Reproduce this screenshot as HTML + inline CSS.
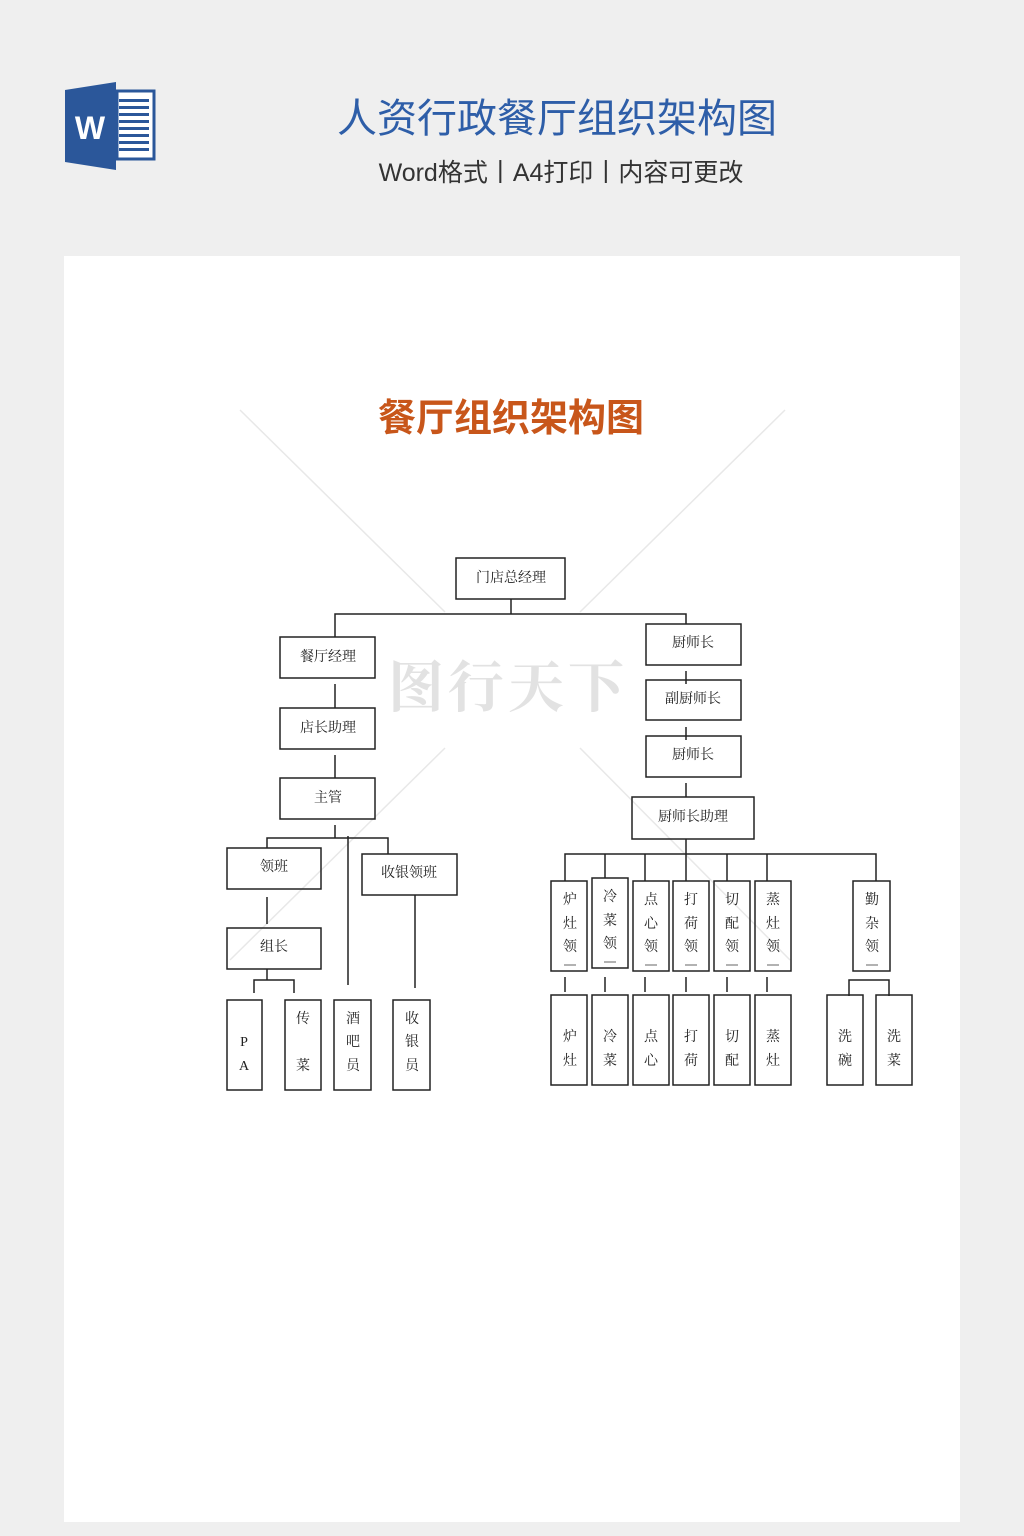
<!DOCTYPE html>
<html><head><meta charset="utf-8"><style>
html,body{margin:0;padding:0;background:#efefef;}
body{width:1024px;height:1536px;position:relative;overflow:hidden;}
</style></head><body>
<svg width="1024" height="1536" viewBox="0 0 1024 1536" xmlns="http://www.w3.org/2000/svg" style="position:absolute;left:0;top:0">
<rect width="1024" height="1536" fill="#efefef"/>
<!-- word icon -->
<polygon points="116,82 116,170 65,162 65,90" fill="#2b579a"/>
<rect x="117" y="91" width="37" height="68" fill="#fff" stroke="#2b579a" stroke-width="3"/>
<g fill="#2b579a"><rect x="119" y="99" width="30" height="3"/><rect x="119" y="106" width="30" height="3"/><rect x="119" y="113" width="30" height="3"/><rect x="119" y="120" width="30" height="3"/><rect x="119" y="127" width="30" height="3"/><rect x="119" y="134" width="30" height="3"/><rect x="119" y="141" width="30" height="3"/><rect x="119" y="148" width="30" height="3"/></g>
<text x="90" y="139" font-family="Liberation Sans, sans-serif" font-weight="bold" font-size="32" fill="#fff" text-anchor="middle">W</text>
<text x="557" y="132" font-family="Liberation Sans, 'Noto Sans CJK SC', sans-serif" font-size="40" fill="#2e5ea8" text-anchor="middle">人资行政餐厅组织架构图</text>
<text x="561" y="181" font-family="Liberation Sans, 'Noto Sans CJK SC', sans-serif" font-size="25" fill="#333" text-anchor="middle">Word格式丨A4打印丨内容可更改</text>
<rect x="64" y="256" width="896" height="1266" fill="#fff"/>
<text x="511" y="431" font-family="'Noto Sans CJK SC', sans-serif" font-weight="bold" font-size="38" fill="#c8561a" text-anchor="middle">餐厅组织架构图</text>
<!-- watermark -->
<g stroke="#e8e8e8" stroke-width="1.5">
<line x1="240" y1="410" x2="445" y2="612"/><line x1="785" y1="410" x2="580" y2="612"/>
<line x1="445" y1="748" x2="230" y2="960"/><line x1="580" y1="748" x2="790" y2="960"/>
</g>
<text x="508" y="707" font-family="'Noto Serif CJK SC', serif" font-weight="bold" font-size="56" fill="#e2e2e2" text-anchor="middle" letter-spacing="4">图行天下</text>
<g fill="none" stroke="#222" stroke-width="1.5">
<rect x="456" y="558" width="109" height="41"/>
<polyline points="511,599 511,614"/>
<polyline points="335,637 335,614 686,614 686,624"/>
<rect x="280" y="637" width="95" height="41"/>
<rect x="280" y="708" width="95" height="41"/>
<rect x="280" y="778" width="95" height="41"/>
<line x1="335" y1="684" x2="335" y2="708"/>
<line x1="335" y1="755" x2="335" y2="778"/>
<line x1="335" y1="825" x2="335" y2="838"/>
<polyline points="267,848 267,838 388,838 388,854"/>
<line x1="348" y1="836" x2="348" y2="985"/>
<rect x="227" y="848" width="94" height="41"/>
<rect x="362" y="854" width="95" height="41"/>
<line x1="267" y1="897" x2="267" y2="924"/>
<rect x="227" y="928" width="94" height="41"/>
<polyline points="254,993 254,980 294,980 294,993"/><line x1="267" y1="969" x2="267" y2="980"/>
<line x1="415" y1="895" x2="415" y2="988"/>
<rect x="227" y="1000" width="35" height="90"/>
<rect x="285" y="1000" width="36" height="90"/>
<rect x="334" y="1000" width="37" height="90"/>
<rect x="393" y="1000" width="37" height="90"/>
<rect x="646" y="624" width="95" height="41"/>
<rect x="646" y="680" width="95" height="40"/>
<rect x="646" y="736" width="95" height="41"/>
<rect x="632" y="797" width="122" height="42"/>
<line x1="686" y1="671" x2="686" y2="684"/>
<line x1="686" y1="727" x2="686" y2="740"/>
<line x1="686" y1="783" x2="686" y2="797"/>
<line x1="686" y1="839" x2="686" y2="854"/>
<polyline points="565,881 565,854 876,854 876,881"/>
<line x1="605" y1="854" x2="605" y2="878"/><line x1="645" y1="854" x2="645" y2="881"/><line x1="686" y1="854" x2="686" y2="881"/><line x1="727" y1="854" x2="727" y2="881"/><line x1="767" y1="854" x2="767" y2="881"/>
<rect x="551" y="881" width="36" height="90"/>
<rect x="592" y="878" width="36" height="90"/>
<rect x="633" y="881" width="36" height="90"/>
<rect x="673" y="881" width="36" height="90"/>
<rect x="714" y="881" width="36" height="90"/>
<rect x="755" y="881" width="36" height="90"/>
<rect x="853" y="881" width="37" height="90"/>
<g><line x1="565" y1="977" x2="565" y2="992"/><line x1="605" y1="977" x2="605" y2="992"/><line x1="645" y1="977" x2="645" y2="992"/><line x1="686" y1="977" x2="686" y2="992"/><line x1="727" y1="977" x2="727" y2="992"/><line x1="767" y1="977" x2="767" y2="992"/></g>
<rect x="551" y="995" width="36" height="90"/>
<rect x="592" y="995" width="36" height="90"/>
<rect x="633" y="995" width="36" height="90"/>
<rect x="673" y="995" width="36" height="90"/>
<rect x="714" y="995" width="36" height="90"/>
<rect x="755" y="995" width="36" height="90"/>
<polyline points="849,996 849,980 889,980 889,996"/>
<rect x="827" y="995" width="36" height="90"/>
<rect x="876" y="995" width="36" height="90"/>
</g>
<g font-family="'Liberation Serif','Noto Serif CJK SC',serif" font-size="14" fill="#222" text-anchor="middle">
<text x="511" y="582">门店总经理</text>
<text x="328" y="661">餐厅经理</text>
<text x="328" y="732">店长助理</text>
<text x="328" y="802">主管</text>
<text x="274" y="871">领班</text>
<text x="409" y="877">收银领班</text>
<text x="274" y="951">组长</text>
<text x="693" y="647">厨师长</text>
<text x="693" y="703">副厨师长</text>
<text x="693" y="759">厨师长</text>
<text x="693" y="821">厨师长助理</text>
<text x="244" y="1046">P</text><text x="244" y="1070">A</text>
<text x="303" y="1023">传</text><text x="303" y="1070">菜</text>
<text x="353" y="1023">酒</text><text x="353" y="1046">吧</text><text x="353" y="1070">员</text>
<text x="412" y="1023">收</text><text x="412" y="1046">银</text><text x="412" y="1070">员</text>
<text x="570" y="904">炉</text><text x="570" y="928">灶</text><text x="570" y="951">领</text>
<text x="610" y="901">冷</text><text x="610" y="925">菜</text><text x="610" y="948">领</text>
<text x="651" y="904">点</text><text x="651" y="928">心</text><text x="651" y="951">领</text>
<text x="691" y="904">打</text><text x="691" y="928">荷</text><text x="691" y="951">领</text>
<text x="732" y="904">切</text><text x="732" y="928">配</text><text x="732" y="951">领</text>
<text x="773" y="904">蒸</text><text x="773" y="928">灶</text><text x="773" y="951">领</text>
<text x="872" y="904">勤</text><text x="872" y="928">杂</text><text x="872" y="951">领</text>
<text x="570" y="1041">炉</text><text x="570" y="1065">灶</text>
<text x="610" y="1041">冷</text><text x="610" y="1065">菜</text>
<text x="651" y="1041">点</text><text x="651" y="1065">心</text>
<text x="691" y="1041">打</text><text x="691" y="1065">荷</text>
<text x="732" y="1041">切</text><text x="732" y="1065">配</text>
<text x="773" y="1041">蒸</text><text x="773" y="1065">灶</text>
<text x="845" y="1041">洗</text><text x="845" y="1065">碗</text>
<text x="894" y="1041">洗</text><text x="894" y="1065">菜</text>
</g>
<g stroke="#666" stroke-width="1">
<line x1="564" y1="965" x2="576" y2="965"/><line x1="604" y1="962" x2="616" y2="962"/><line x1="645" y1="965" x2="657" y2="965"/><line x1="685" y1="965" x2="697" y2="965"/><line x1="726" y1="965" x2="738" y2="965"/><line x1="767" y1="965" x2="779" y2="965"/><line x1="866" y1="965" x2="878" y2="965"/>
</g>
</svg>
</body></html>
